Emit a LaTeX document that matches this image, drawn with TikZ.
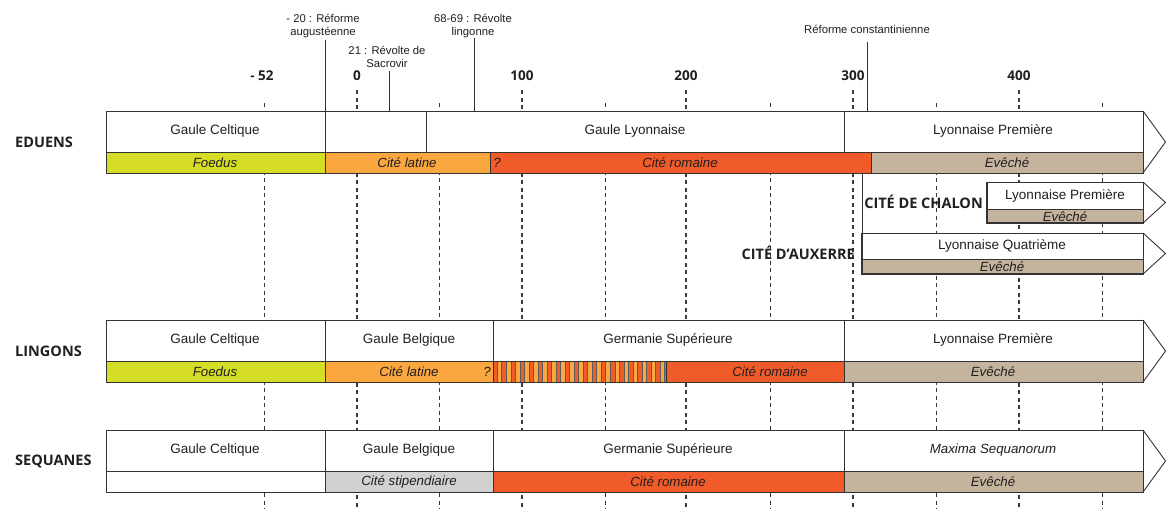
\documentclass[tikz,border=0pt]{standalone}
\usepackage{fontspec}
\setmainfont{Liberation Sans}
\newfontfamily\boldsans{Open Sans}
\definecolor{edge}{HTML}{333333}
\definecolor{txt}{HTML}{231F20}
\definecolor{tickc}{HTML}{3A3A3A}
\definecolor{foedus}{HTML}{D5DD26}
\definecolor{latine}{HTML}{F9A73E}
\definecolor{romaine}{HTML}{F15A29}
\definecolor{eveche}{HTML}{C4B49D}
\definecolor{stip}{HTML}{D1D1D1}
\newcommand\cbox[5]{\filldraw[fill=#5, draw=edge, line width=0.9pt] (#1,#3) rectangle (#2,#4);}
\newcommand\tipend[3]{\draw[draw=edge, line width=0.9pt, line join=miter] (1143,#1) -- (1165.5,#2) -- (1143,#3);}
\begin{document}
\begin{tikzpicture}[x=1pt,y=-1pt,
  lbl/.style={font=\fontsize{13.5}{15}\selectfont, text=txt, inner sep=0pt},
  ilbl/.style={font=\fontsize{13.3}{15}\selectfont\itshape, text=txt, inner sep=0pt},
  ann/.style={font=\fontsize{11.3}{13}\selectfont, text=txt, align=center, inner sep=0pt},
  year/.style={font=\boldsans\bfseries\fontsize{13.5}{15}\selectfont, text=txt, inner sep=0pt},
  rowlbl/.style={font=\boldsans\bfseries\fontsize{14.5}{16}\selectfont, text=txt, inner sep=0pt},
  majortick/.style={draw=tickc, line width=1.3pt, dash pattern=on 4pt off 3.5pt},
  minortick/.style={draw=tickc, line width=0.7pt, dash pattern=on 4pt off 3.5pt},
  pointer/.style={draw=edge, line width=0.9pt}]
\useasboundingbox (0,0) rectangle (1166,509);
\fill[white] (0,0) rectangle (1166,509);

% time grid
\foreach \x in {357,522,686,853,1019} \draw[majortick] (\x,90) -- (\x,509);
\foreach \x in {264,439,605,770,936,1102} \draw[minortick] (\x,103) -- (\x,509);

% years
\node[year] (ym52) at (262,76) {- 52};
\node[year] (y0) at (357,76) {0};
\node[year] (y100) at (522,76) {100};
\node[year] (y200) at (686,76) {200};
\node[year] (y300) at (853,76) {300};
\node[year] (y400) at (1019,76) {400};

% annotations
\node[ann] (a20) at (323,26) {- 20 : Réforme\\augustéenne};
\node[ann] (a21) at (387,56.5) {21 : Révolte de\\Sacrovir};
\node[ann] (a68) at (473,26) {68-69 : Révolte\\lingonne};
\node[ann] (a300) at (867,29) {Réforme constantinienne};
\coordinate (p20) at (325.5,111);
\coordinate (p21) at (389,111);
\coordinate (p68) at (474,111);
\coordinate (p300) at (867,111);
\draw[pointer] (p20 |- 0,40) -- (p20);
\draw[pointer] (p21 |- 0,71) -- (p21);
\draw[pointer] (p68 |- 0,38) -- (p68);
\draw[pointer] (p300 |- 0,42) -- (p300);

% ================= EDUENS
\cbox{106}{325}{111}{152}{white}
\cbox{325}{426}{111}{152}{white}
\cbox{426}{844}{111}{152}{white}
\cbox{844}{1143}{111}{152}{white}
\cbox{106}{325}{152}{173}{foedus}
\cbox{325}{490}{152}{173}{latine}
\cbox{490}{871}{152}{173}{romaine}
\cbox{871}{1143}{152}{173}{eveche}
\tipend{111}{142}{173}
\node[rowlbl, anchor=west] (eduens) at (15,142) {EDUENS};
\node[lbl] (e1) at (215,131) {Gaule Celtique};
\node[lbl] (e2) at (635,131) {Gaule Lyonnaise};
\node[lbl] (e3) at (993,131) {Lyonnaise Première};
\node[ilbl] (e4) at (215,162.5) {Foedus};
\node[ilbl] (e5) at (407,162.5) {Cité latine};
\node[ilbl] (e6) at (497,162.5) {?};
\node[ilbl] (e7) at (680,162.5) {Cité romaine};
\node[ilbl] (e8) at (1007,162.5) {Evêché};

% Chalon / Auxerre
\coordinate (auxtop) at (862,173);
\coordinate (auxbar) at (862,233);
\draw[pointer] (auxtop) -- (auxbar);
\cbox{987}{1143}{182}{209}{white}
\cbox{987}{1143}{209}{223}{eveche}
\draw[edge, line width=1.6pt] (987,182) -- (987,223) -- (1143,223);
\tipend{182}{202.5}{223}
\node[rowlbl, anchor=east] (chalon) at (983,202) {CITÉ DE CHALON};
\node[lbl] (c1) at (1065,196) {Lyonnaise Première};
\node[ilbl] (c2) at (1065,216.5) {Evêché};

\cbox{862}{1143}{233}{259}{white}
\cbox{862}{1143}{259}{274}{eveche}
\draw[edge, line width=1.6pt] (862,233) -- (862,274) -- (1143,274);
\tipend{233}{253.5}{274}
\node[rowlbl, anchor=east] (auxerre) at (855,253) {CITÉ D’AUXERRE};
\node[lbl] (x1) at (1002,246) {Lyonnaise Quatrième};
\node[ilbl] (x2) at (1002,267) {Evêché};

% ================= LINGONS
\cbox{106}{325}{320}{361}{white}
\cbox{325}{493}{320}{361}{white}
\cbox{493}{844}{320}{361}{white}
\cbox{844}{1143}{320}{361}{white}
\cbox{106}{325}{361}{382}{foedus}
\cbox{325}{493}{361}{382}{latine}
\fill[romaine] (493,361) rectangle (666,382);
\foreach \i in {0,...,18}
  \filldraw[fill=latine, draw=edge!80, line width=0.3pt] ({497+\i*9.05},361) rectangle ({501.6+\i*9.05},382);
\cbox{666}{844}{361}{382}{romaine}
\draw[edge, line width=0.9pt] (493,361) rectangle (666,382);
\cbox{844}{1143}{361}{382}{eveche}
\tipend{320}{351}{382}
\node[rowlbl, anchor=west] (lingons) at (15,351) {LINGONS};
\node[lbl] (l1) at (215,340) {Gaule Celtique};
\node[lbl] (l2) at (409,340) {Gaule Belgique};
\node[lbl] (l3) at (668,340) {Germanie Supérieure};
\node[lbl] (l4) at (993,340) {Lyonnaise Première};
\node[ilbl] (l5) at (215,371.5) {Foedus};
\node[ilbl] (l6) at (409,371.5) {Cité latine};
\node[ilbl] (l7) at (487,371.5) {?};
\node[ilbl] (l8) at (770,371.5) {Cité romaine};
\node[ilbl] (l9) at (993,371.5) {Evêché};

% ================= SEQUANES
\cbox{106}{325}{430}{471}{white}
\cbox{325}{493}{430}{471}{white}
\cbox{493}{844}{430}{471}{white}
\cbox{844}{1143}{430}{471}{white}
\cbox{106}{325}{471}{492}{white}
\cbox{325}{493}{471}{492}{stip}
\cbox{493}{844}{471}{492}{romaine}
\cbox{844}{1143}{471}{492}{eveche}
\tipend{430}{461}{492}
\node[rowlbl, anchor=west] (sequanes) at (15,461) {SEQUANES};
\node[lbl] (s1) at (215,450) {Gaule Celtique};
\node[lbl] (s2) at (409,450) {Gaule Belgique};
\node[lbl] (s3) at (668,450) {Germanie Supérieure};
\node[ilbl] (s4) at (993,450) {Maxima Sequanorum};
\node[ilbl] (s5) at (409,481.5) {Cité stipendiaire};
\node[ilbl] (s6) at (668,481.5) {Cité romaine};
\node[ilbl] (s7) at (993,481.5) {Evêché};
\end{tikzpicture}
\end{document}
